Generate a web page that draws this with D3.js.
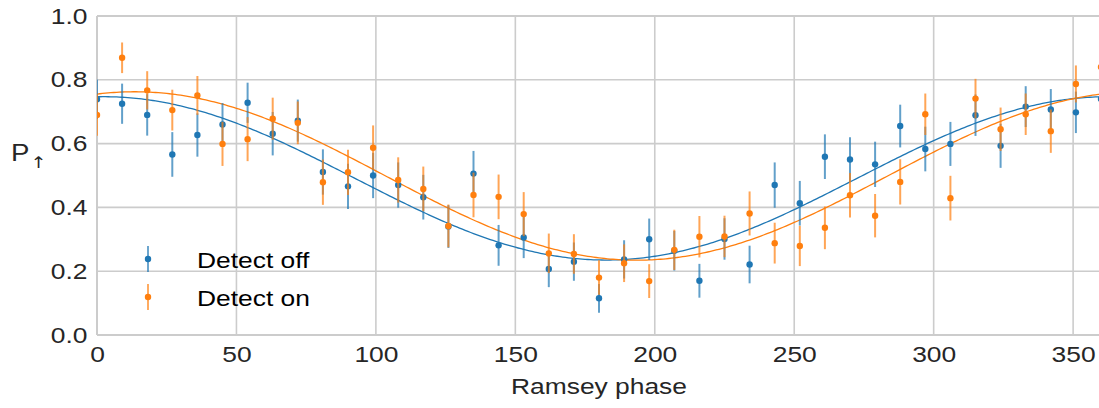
<!DOCTYPE html>
<html>
<head>
<meta charset="utf-8">
<script src="https://cdn.jsdelivr.net/npm/d3@7"></script>
<style>
  html, body { margin: 0; padding: 0; background: #fff; }
  svg { display: block; font-family: "Liberation Sans", Arial, sans-serif; }
</style>
</head>
<body>
<svg id="chart" width="1099" height="408"></svg>
<script>
// Ramsey phase (degrees) at which the populations were measured
const phase = [0, 9, 18, 27, 36, 45, 54, 63, 72, 81, 90, 99, 108, 117, 126, 135, 144, 153, 162, 171,
  180, 189, 198, 207, 216, 225, 234, 243, 252, 261, 270, 279, 288, 297, 306, 315, 324, 333, 342, 351, 360];

// Spin-up probability with the detector off
const detectOff = [0.739, 0.725, 0.690, 0.566, 0.627, 0.660, 0.728, 0.631, 0.672, 0.511, 0.466, 0.500,
  0.470, 0.432, 0.340, 0.506, 0.281, 0.306, 0.207, 0.230, 0.115, 0.237, 0.300, 0.264, 0.170, 0.301,
  0.221, 0.470, 0.413, 0.559, 0.550, 0.535, 0.655, 0.583, 0.599, 0.689, 0.593, 0.716, 0.707, 0.698, 0.740];
const detectOffErr = [0.062, 0.063, 0.065, 0.070, 0.068, 0.067, 0.063, 0.068, 0.066, 0.071, 0.071, 0.071,
  0.071, 0.070, 0.067, 0.071, 0.064, 0.065, 0.057, 0.060, 0.045, 0.060, 0.065, 0.062, 0.053, 0.065,
  0.059, 0.071, 0.070, 0.070, 0.070, 0.071, 0.067, 0.070, 0.069, 0.065, 0.069, 0.064, 0.064, 0.065, 0.062];

// Spin-up probability with the detector on
const detectOn = [0.690, 0.869, 0.767, 0.705, 0.751, 0.599, 0.614, 0.678, 0.665, 0.479, 0.510, 0.587,
  0.486, 0.458, 0.342, 0.439, 0.433, 0.379, 0.256, 0.254, 0.180, 0.225, 0.169, 0.267, 0.308, 0.309,
  0.381, 0.288, 0.279, 0.336, 0.438, 0.374, 0.480, 0.692, 0.429, 0.741, 0.645, 0.692, 0.639, 0.787, 0.840];
const detectOnErr = [0.065, 0.048, 0.060, 0.064, 0.061, 0.069, 0.069, 0.066, 0.067, 0.071, 0.071, 0.070,
  0.071, 0.070, 0.067, 0.070, 0.070, 0.069, 0.062, 0.062, 0.054, 0.059, 0.053, 0.063, 0.065, 0.065,
  0.069, 0.064, 0.063, 0.067, 0.070, 0.068, 0.071, 0.065, 0.070, 0.062, 0.068, 0.065, 0.068, 0.058, 0.052];

// Cosine fit parameters [offset, amplitude, phase of maximum in degrees]
const fitOff = [0.491, 0.256, 2.5];
const fitOn = [0.4985, 0.264, 13.5];

const seriesNames = ["Detect off", "Detect on"];
const xTicks = [0, 50, 100, 150, 200, 250, 300, 350];
const yTicks = [0.0, 0.2, 0.4, 0.6, 0.8, 1.0];

const colors = ["#1f77b4", "#ff7f0e"];
const TXT = "scale(1.2,1)";

const svg = d3.select("#chart");
const plotL = 97, plotR = 1101, plotT = 16, plotB = 335;

const x = d3.scaleLinear().domain([0, 360]).range([plotL, plotR]);
const y = d3.scaleLinear().domain([0, 1]).range([plotB, plotT]);

svg.append("defs").append("clipPath").attr("id", "plotclip")
  .append("rect").attr("x", plotL).attr("y", plotT - 5)
  .attr("width", plotR - plotL).attr("height", plotB - plotT + 10);

// grid
const grid = svg.append("g");
grid.selectAll(".gx").data(xTicks).join("line")
  .attr("x1", d => x(d)).attr("x2", d => x(d))
  .attr("y1", plotT).attr("y2", plotB)
  .attr("stroke", "#cccccc").attr("stroke-width", 1.6);
grid.selectAll(".gy").data(yTicks).join("line")
  .attr("x1", plotL).attr("x2", plotR)
  .attr("y1", d => y(d)).attr("y2", d => y(d))
  .attr("stroke", "#cccccc").attr("stroke-width", 1.6);
// frame
grid.append("line").attr("x1", plotL).attr("x2", plotL).attr("y1", plotT).attr("y2", plotB)
  .attr("stroke", "#cccccc").attr("stroke-width", 2);
grid.append("line").attr("x1", plotL).attr("x2", plotR).attr("y1", plotB).attr("y2", plotB)
  .attr("stroke", "#cccccc").attr("stroke-width", 2);
grid.append("line").attr("x1", plotL).attr("x2", plotR).attr("y1", plotT).attr("y2", plotT)
  .attr("stroke", "#cccccc").attr("stroke-width", 2);

// axes (labels only)
const xAxis = svg.append("g").attr("transform", `translate(0,${plotB})`)
  .call(d3.axisBottom(x).tickValues(xTicks).tickSize(0).tickPadding(11).tickFormat(d3.format("d")));
const yAxis = svg.append("g").attr("transform", `translate(${plotL},0)`)
  .call(d3.axisLeft(y).tickValues(yTicks).tickSize(0).tickPadding(8).tickFormat(d3.format(".1f")));
[xAxis, yAxis].forEach(a => {
  a.select(".domain").remove();
  a.selectAll("text").attr("font-size", 22).attr("fill", "#262626")
    .attr("font-family", "Liberation Sans, Arial, sans-serif").attr("transform", TXT);
});

// axis titles
svg.append("text").attr("transform", `translate(599,394) ${TXT}`)
  .attr("text-anchor", "middle").attr("font-size", 22).attr("fill", "#262626")
  .text("Ramsey phase");
const yl = svg.append("text").attr("transform", `translate(11,161) ${TXT}`)
  .attr("font-size", 23).attr("fill", "#262626");
yl.append("tspan").text("P");
yl.append("tspan").attr("font-size", 16).attr("font-family", "DejaVu Sans")
  .attr("dx", 1).attr("dy", 7).text("↑");

// data
const plot = svg.append("g").attr("clip-path", "url(#plotclip)");
const series = [
  { vals: detectOff, errs: detectOffErr, fit: fitOff, color: colors[0] },
  { vals: detectOn, errs: detectOnErr, fit: fitOn, color: colors[1] }
];

const fitX = d3.range(0, 360.5, 1);
const line = d3.line().x(d => x(d[0])).y(d => y(d[1]));
series.forEach(s => {
  const [c, a, p] = s.fit;
  plot.append("path")
    .datum(fitX.map(t => [t, c + a * Math.cos((t - p) * Math.PI / 180)]))
    .attr("d", line).attr("fill", "none").attr("stroke", s.color).attr("stroke-width", 1.3);
});

series.forEach(s => {
  const g = plot.append("g");
  g.selectAll("line").data(phase).join("line")
    .attr("x1", d => x(d)).attr("x2", d => x(d))
    .attr("y1", (d, i) => y(s.vals[i] - s.errs[i]))
    .attr("y2", (d, i) => y(s.vals[i] + s.errs[i]))
    .attr("stroke", s.color).attr("stroke-width", 2).attr("stroke-opacity", 0.7);
  g.selectAll("circle").data(phase).join("circle")
    .attr("cx", d => x(d)).attr("cy", (d, i) => y(s.vals[i]))
    .attr("r", 3.2).attr("fill", s.color);
});

// legend
const legend = svg.append("g");
seriesNames.forEach((name, i) => {
  const cy = 259 + i * 38;
  legend.append("line").attr("x1", 148).attr("x2", 148).attr("y1", cy - 13).attr("y2", cy + 13)
    .attr("stroke", colors[i]).attr("stroke-width", 2).attr("stroke-opacity", 0.65);
  legend.append("circle").attr("cx", 148).attr("cy", cy).attr("r", 3.2).attr("fill", colors[i]);
  legend.append("text").attr("transform", `translate(197,${cy + 8.5}) ${TXT}`)
    .attr("font-size", 22).attr("fill", "#000").text(name);
});
</script>
</body>
</html>
